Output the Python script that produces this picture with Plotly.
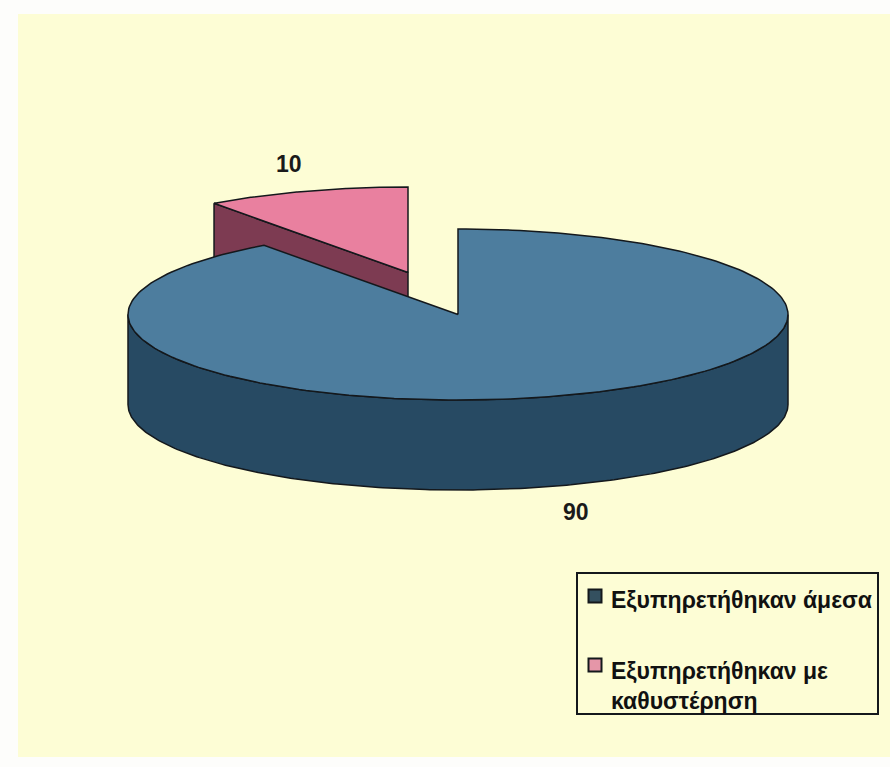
"""
3D style pie of service delay, drawn with filled scatter traces
"""

import numpy as np
import plotly.graph_objects as go

categories = ["Εξυπηρετήθηκαν άμεσα", "Εξυπηρετήθηκαν με<br>καθυστέρηση"]
values = [90, 10]
value_labels = ["90", "10"]

top_colors = ["#4d7d9e", "#e9809f"]
wall_colors = ["#274a63", "#7d3b52"]
swatch_colors = ["#34505f", "#e596a8"]
edge_color = "#14181c"
bg_color = "#fdfdd5"

# pie geometry in page pixels
main_center = (458, 314.5)
pink_center = (408, 272.5)
rx, ry = 330, 85.5
depth = 90


def rim(cx, cy, a0, a1, n=240):
    # angles are clockwise from 12 o'clock, in percent of the pie
    t = np.linspace(a0, a1, n) / 100 * 2 * np.pi
    return cx + rx * np.sin(t), cy - ry * np.cos(t)


def add_poly(fig, x, y, fill, width=1.5):
    fig.add_trace(go.Scatter(
        x=list(x), y=list(y), mode="lines", fill="toself", fillcolor=fill,
        line=dict(color=edge_color, width=width), hoverinfo="skip", showlegend=False,
    ))


fig = go.Figure()

# pink slice, sits behind the big one
pink_start = values[0]
px_, py_ = rim(*pink_center, pink_start, 100)
add_poly(fig,
         [px_[0], pink_center[0], pink_center[0], px_[0], px_[0]],
         [py_[0], pink_center[1], pink_center[1] + depth, py_[0] + depth, py_[0]],
         wall_colors[1])
add_poly(fig,
         np.r_[pink_center[0], px_, pink_center[0]],
         np.r_[pink_center[1], py_, pink_center[1]],
         top_colors[1])

# big slice, wall first then the top face
wx, wy = rim(*main_center, 25, 75)
add_poly(fig, np.r_[wx, wx[::-1], wx[0]], np.r_[wy, wy[::-1] + depth, wy[0]], wall_colors[0])
mx, my = rim(*main_center, 0, values[0])
add_poly(fig,
         np.r_[main_center[0], mx, main_center[0]],
         np.r_[main_center[1], my, main_center[1]],
         top_colors[0])

# legend swatches
fig.add_trace(go.Scatter(
    x=[595, 595], y=[596, 665], mode="markers", hoverinfo="skip", showlegend=False,
    marker=dict(symbol="square", size=13, color=swatch_colors,
                line=dict(color=edge_color, width=2)),
))

label_font = dict(size=23, color="#1a1a1a", family="Liberation Sans")
legend_font = dict(size=23, color="#111111", family="Liberation Sans")
fig.add_annotation(x=289, y=164, text=f"<b>{value_labels[1]}</b>", showarrow=False, font=label_font)
fig.add_annotation(x=576, y=512, text=f"<b>{value_labels[0]}</b>", showarrow=False, font=label_font)
fig.add_annotation(x=609, y=600, text=f"<b>{categories[0]}</b>", showarrow=False, xanchor="left",
                   font=legend_font)
fig.add_annotation(x=609, y=686, text=f"<b>{categories[1]}</b>", showarrow=False, xanchor="left",
                   align="left", font=legend_font)

fig.update_layout(
    width=890, height=767,
    margin=dict(l=0, r=0, t=0, b=0),
    paper_bgcolor="#fdfdfb",
    plot_bgcolor="#fdfdfb",
    showlegend=False,
    xaxis=dict(range=[0, 890], visible=False, fixedrange=True),
    yaxis=dict(range=[767, 0], visible=False, fixedrange=True),
    shapes=[
        dict(type="rect", x0=18, y0=14, x1=890, y1=757, fillcolor=bg_color,
             line_width=0, layer="below"),
        dict(type="rect", x0=577, y0=573, x1=878, y1=714, fillcolor="rgba(0,0,0,0)",
             line=dict(color=edge_color, width=2)),
    ],
)

# the page's default body margin would push the figure off by 8px
fig.write_html("out.html", config={"displayModeBar": False},
               post_script="document.body.style.margin='0';document.body.style.overflow='hidden';")
